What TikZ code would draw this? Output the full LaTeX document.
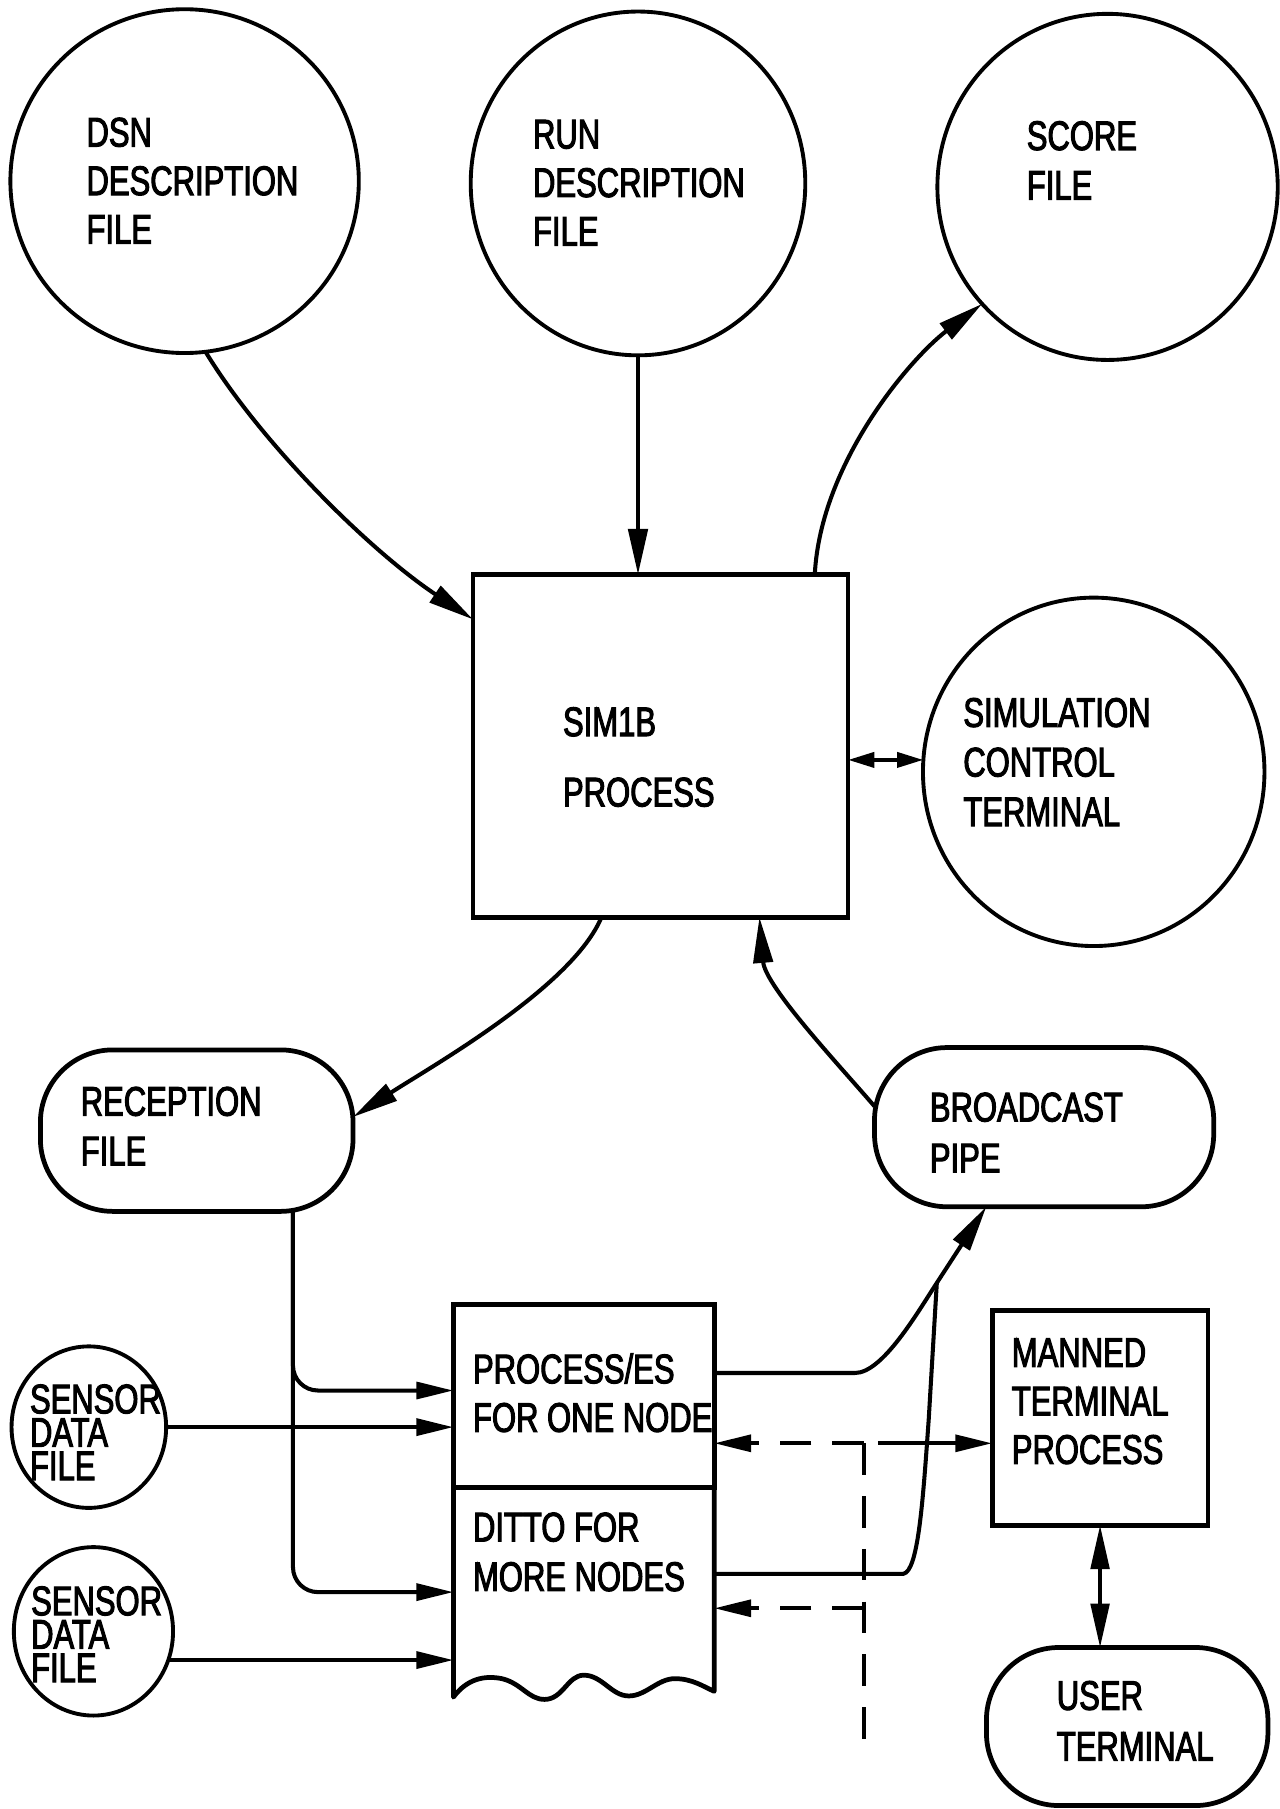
\documentclass[tikz,border=0pt]{standalone}
\usepackage{fontspec}
\newfontfamily\lettering{Liberation Sans}[FakeStretch=0.75,FakeBold=2.5]
\usetikzlibrary{arrows.meta,shapes.geometric,calc}
\def\uu{0.02306cm}
\tikzset{
  every node/.style={inner sep=0pt, outer sep=0pt},
  filecirc/.style={draw, ellipse, line width=2.2pt},
  procbox/.style={draw, rectangle, line width=2.7pt},
  pipebox/.style={draw, rectangle, rounded corners=1.45cm, line width=2.7pt},
  lbl/.style={anchor=north west, align=left, font=\lettering\fontsize{23.5}{#1}\selectfont},
  lbl/.default=27.6pt,
  conn/.style={line width=2.3pt},
  arr/.style={conn, -{Triangle[length=21pt,width=9.5pt]}},
  bigarr/.style={conn, -{Triangle[length=26pt,width=11pt]}},
  dblarr/.style={conn, {Triangle[length=15pt,width=8.5pt]}-{Triangle[length=15pt,width=8.5pt]}},
  bigdbl/.style={conn, {Triangle[length=25pt,width=10.5pt]}-{Triangle[length=25pt,width=10.5pt]}},
  dsh/.style={conn, dash pattern=on 18pt off 12pt},
}
\begin{document}
\begin{tikzpicture}[x=\uu, y=-\uu]
\fill[white] (0,0) rectangle (1109,1568);
\useasboundingbox (0,0) rectangle (1109,1568);

% shapes
\node[filecirc, minimum width={302*\uu}, minimum height={298*\uu}] (dsn) at (160,157) {};
\node[filecirc, minimum width={290*\uu}, minimum height={298*\uu}] (run) at (553,159) {};
\node[filecirc, minimum width={295*\uu}, minimum height={300*\uu}] (score) at (960,162) {};
\node[filecirc, minimum width={296*\uu}, minimum height={302*\uu}] (simc) at (948,669) {};
\node[procbox, minimum width={325*\uu}, minimum height={297*\uu}] (sim) at (572.5,646.5) {};
\node[pipebox, minimum width={271*\uu}, minimum height={140*\uu}] (rec) at (170.5,980) {};
\node[pipebox, minimum width={294*\uu}, minimum height={138*\uu}] (bc) at (905,977) {};
\node[procbox, minimum width={226*\uu}, minimum height={158*\uu}] (proc) at (506,1210) {};
\node[rectangle, minimum width={226*\uu}, minimum height={182*\uu}] (ditto) at (506,1380) {};
\node[filecirc, minimum width={134*\uu}, minimum height={140*\uu}] (sen1) at (77,1237) {};
\node[filecirc, minimum width={138*\uu}, minimum height={146*\uu}] (sen2) at (81,1414) {};
\node[procbox, minimum width={187*\uu}, minimum height={186*\uu}] (man) at (953.5,1229) {};
\node[pipebox, minimum width={244*\uu}, minimum height={137*\uu}] (user) at (977,1496.5) {};

% ditto outline with torn bottom
\draw[line width=2.7pt, line join=round] (ditto.north west) -- (ditto.south west)
  .. controls (405,1455) and (420,1452) .. (435,1455)
  .. controls (452,1459) and (458,1473) .. (472,1473)
  .. controls (488,1473) and (492,1452) .. (506,1452)
  .. controls (522,1452) and (530,1470) .. (545,1470)
  .. controls (560,1470) and (570,1455) .. (585,1455)
  .. controls (600,1455) and (610,1462) .. (619,1466)
  -- (ditto.north east);

% labels
\node[lbl] (dsnT) at (75,102) {DSN\\DESCRIPTION\\FILE};
\node[lbl] (runT) at (462,104) {RUN\\DESCRIPTION\\FILE};
\node[lbl=28.2pt] (scoreT) at (890,105) {SCORE\\FILE};
\node[lbl=40pt] (simT) at (488,613) {SIM1B\\PROCESS};
\node[lbl=28.2pt] (simcT) at (835,605) {SIMULATION\\CONTROL\\TERMINAL};
\node[lbl=28.2pt] (recT) at (70,942) {RECEPTION\\FILE};
\node[lbl=28.9pt] (bcT) at (806,947) {BROADCAST\\PIPE};
\node[lbl] (procT) at (410,1173) {PROCESS/ES\\FOR ONE NODE};
\node[lbl=28.2pt] (dittoT) at (410,1311) {DITTO FOR\\MORE NODES};
\node[lbl] (manT) at (877,1160) {MANNED\\TERMINAL\\PROCESS};
\node[lbl=28.9pt] (userT) at (916,1457) {USER\\TERMINAL};
\node[lbl=19pt] (sen1T) at (26,1200) {SENSOR\\DATA\\FILE};
\node[lbl=19pt] (sen2T) at (27,1375) {SENSOR\\DATA\\FILE};

% helper coordinates
\coordinate (procIn) at ($(proc.north west)!0.47!(proc.south west)$);
\coordinate (dittoIn) at ($(ditto.north west)!0.5!(ditto.south west)$);
\coordinate (mrg) at (812,1112);
\coordinate (brU) at (749,1251);
\coordinate (mst) at (761,1251);
\coordinate (brL) at (749,1394);
\coordinate (dend) at (749,1525);

% connectors
\draw[bigarr] (dsn.-83) .. controls +(48,79) and +(-90,-60) .. (sim.146);
\draw[bigarr] (run) -- (run |- sim.north);
\draw[bigarr] (sim.48) .. controls +(5,-97) and +(-62,47) .. (score.-137);
\draw[dblarr] (simc.176) -- (simc.176 -| sim.east);
\draw[bigarr] (sim.-109) .. controls +(-25,60) and +(70,-45) .. (rec.5);
\draw[bigarr] (bc.173) .. controls +(-30,-35) and +(5,60) .. (sim.-60);

\draw[arr, rounded corners=0.5cm] (rec.-40) |- (procIn);
\draw[arr, rounded corners=0.5cm] (rec.-40) |- (dittoIn);
\draw[arr] (sen1) -- (sen1 -| proc.west);
\draw[arr] (sen2.-21) -- (sen2.-21 -| ditto.west);

\draw[bigarr] (proc.10) -- ++(122,0) .. controls +(24,0) and (795,1138) .. (mrg) -- (bc.-126);
\draw[conn] (ditto.8) -- ++(164,0) .. controls +(13,-2) and (800,1300) .. (805,1230) -- (mrg);

\draw[dsh, -{Triangle[length=21pt,width=9.5pt]}] (brU) -- (brU -| proc.east);
\draw[arr] (mst) -- (mst -| man.west);
\draw[dsh] (brU) -- (dend);
\draw[dsh, -{Triangle[length=21pt,width=9.5pt]}] (brL) -- (brL -| ditto.east);

\draw[bigdbl] (man.south) -- (man.south |- user.north);
\end{tikzpicture}
\end{document}
